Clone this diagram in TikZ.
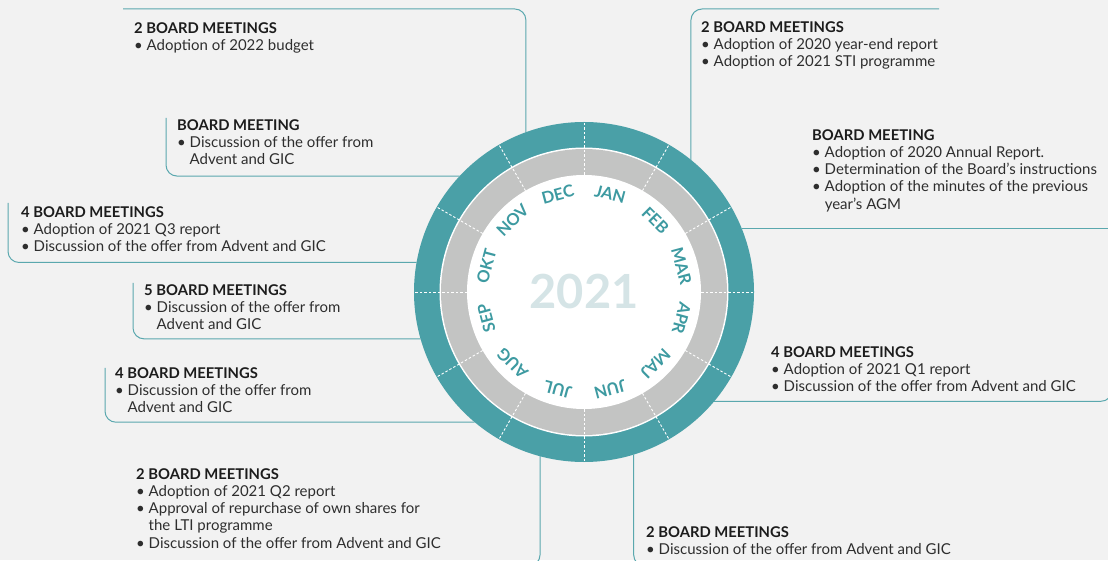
\documentclass[tikz,border=0pt]{standalone}
\usepackage{fontspec}
\setmainfont{Lato}
\usetikzlibrary{calc}

\definecolor{bgpage}{HTML}{F2F2F2}
\definecolor{ringteal}{HTML}{4AA0A7}
\definecolor{lineteal}{HTML}{5AA8AE}
\definecolor{monthteal}{HTML}{3D9AA1}
\definecolor{ringgray}{HTML}{C3C4C3}
\definecolor{yearblue}{HTML}{D5E4E6}
\definecolor{titletext}{HTML}{1C1C1C}
\definecolor{bodytext}{HTML}{2E2E2E}

\tikzset{
  link/.style={draw=lineteal, line width=1pt, rounded corners=11pt},
  meet/.style={anchor=north west, inner sep=0pt, align=left, text=bodytext,
    font=\fontsize{15}{17.3}\selectfont},
  month/.style={text=monthteal, inner sep=0pt,
    font=\bfseries\fontsize{16.5}{17}\selectfont},
  divider/.style={white, line width=0.9pt, dash pattern=on 2.5pt off 2pt},
}

\newcommand{\hd}[1]{{\color{titletext}\bfseries\fontsize{14.8}{17.3}\selectfont #1}}
\newcommand{\itm}{\textbullet\ }
\newcommand{\ind}{\hphantom{\textbullet\ }}

\begin{document}
\begin{tikzpicture}[x=1pt, y=1pt]
    % page
    \fill[bgpage] (0,0) rectangle (1108,560);
    \useasboundingbox (0,0) rectangle (1108,560);

    % the year wheel
    \node[circle, fill=ringteal, minimum size=340pt, inner sep=0pt, outer sep=0pt] (ring) at (584,268) {};
    \fill[white] (ring.center) circle (144.5);
    \fill[ringgray] (ring.center) circle (143);
    \fill[white] (ring.center) circle (117);
    \foreach \a in {0,30,...,330}
        \draw[divider] (ring.center) ++(\a:117) -- ++(\a:53);

    % months, clockwise from the top
    \foreach \m [count=\i] in {JAN,FEB,MAR,APR,MAJ,JUN,JUL,AUG,SEP,OKT,NOV,DEC}{
        \pgfmathsetmacro\a{105-30*\i}
        \path (ring.center) ++(\a:101) node[month, rotate=\a-90] (m-\i) {\m};
    }
    \node[text=yearblue, font=\bfseries\fontsize{47}{47}\selectfont] (year) at (ring.center) {2021};

    % lines out to the meeting notes
    \coordinate (dec-end) at (123,551);
    \coordinate (jan-end) at (939,551);
    \coordinate (nov-end) at (166,442);
    \coordinate (okt-end) at (8,357);
    \coordinate (sep-end) at (133,277);
    \coordinate (aug-end) at (105,192);
    \coordinate (apr-end) at (1112,200);
    \coordinate (jul-end) at (400,-6);
    \coordinate (jun-end) at (800,-6);

    \draw[link] (dec-end) -| (ring.110);
    \draw[link] (jan-end) -| (ring.51);
    \draw[link] (nov-end) |- (ring.137);
    \draw[link] (ring.22) -- ++(370,0);
    \draw[link] (okt-end) |- (ring.170);
    \draw[link] (sep-end) |- (ring.196);
    \draw[link] (aug-end) |- (ring.230);
    \draw[link] (ring.-40) -| (apr-end);
    \draw[link] (ring.255) |- (jul-end);
    \draw[link] (ring.287) |- (jun-end);

    % meeting notes
    \node[meet] (dec) at (134,538) {\hd{2 BOARD MEETINGS}\\
        \itm Adoption of 2022 budget};
    \node[meet] (nov) at (177,441) {\hd{BOARD MEETING}\\
        \itm Discussion of the offer from\\ \ind Advent and GIC};
    \node[meet] (jan) at (701,539) {\hd{2 BOARD MEETINGS}\\
        \itm Adoption of 2020 year-end report\\
        \itm Adoption of 2021 STI programme};
    \node[meet] (feb) at (812,431) {\hd{BOARD MEETING}\\
        \itm Adoption of 2020 Annual Report.\\
        \itm Determination of the Board’s instructions\\
        \itm Adoption of the minutes of the previous\\ \ind year’s AGM};
    \node[meet] (okt) at (21,354) {\hd{4 BOARD MEETINGS}\\
        \itm Adoption of 2021 Q3 report\\
        \itm Discussion of the offer from Advent and GIC};
    \node[meet] (sep) at (144,276) {\hd{5 BOARD MEETINGS}\\
        \itm Discussion of the offer from\\ \ind Advent and GIC};
    \node[meet] (aug) at (115,193) {\hd{4 BOARD MEETINGS}\\
        \itm Discussion of the offer from\\ \ind Advent and GIC};
    \node[meet] (apr) at (771,214) {\hd{4 BOARD MEETINGS}\\
        \itm Adoption of 2021 Q1 report\\
        \itm Discussion of the offer from Advent and GIC};
    \node[meet] (jul) at (136,92) {\hd{2 BOARD MEETINGS}\\
        \itm Adoption of 2021 Q2 report\\
        \itm Approval of repurchase of own shares for\\ \ind the LTI programme\\
        \itm Discussion of the offer from Advent and GIC};
    \node[meet] (jun) at (646,34) {\hd{2 BOARD MEETINGS}\\
        \itm Discussion of the offer from Advent and GIC};
\end{tikzpicture}
\end{document}
